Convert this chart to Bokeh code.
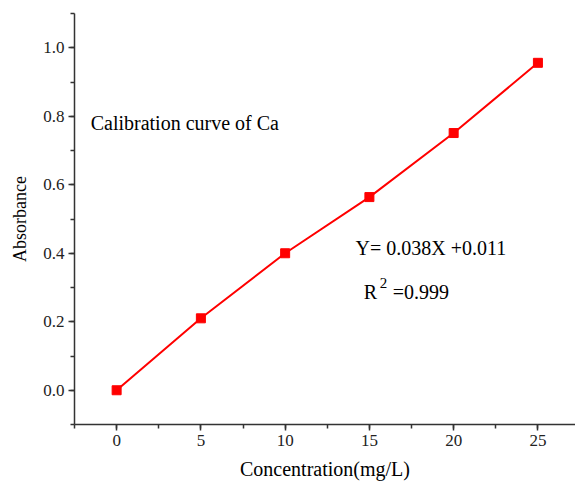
from bokeh.plotting import figure
from bokeh.models import Range1d, SingleIntervalTicker, NumeralTickFormatter, Label
from bokeh.embed import file_html
from bokeh.resources import INLINE

concentration = [0, 5, 10, 15, 20, 25]
absorbance = [0.0, 0.21, 0.40, 0.564, 0.751, 0.956]
title_text = "Calibration curve of Ca"
equation_text = "Y= 0.038X +0.011"
r2_main = "R"
r2_sup = "2"
r2_value = "=0.999"

FONT = "Liberation Serif"

p = figure(width=575, height=488, output_backend="svg", toolbar_location=None,
           x_range=Range1d(-2.5, 27.23), y_range=Range1d(-0.1, 1.1),
           min_border_left=74, min_border_right=0, min_border_top=13, min_border_bottom=64)
p.outline_line_color = None
p.xgrid.visible = False
p.ygrid.visible = False
p.background_fill_color = "white"
p.border_fill_color = "white"

p.xaxis.ticker = SingleIntervalTicker(interval=5, num_minor_ticks=2)
p.yaxis.ticker = SingleIntervalTicker(interval=0.2, num_minor_ticks=2)
p.yaxis.formatter = NumeralTickFormatter(format="0.0")

for ax in (p.xaxis[0], p.yaxis[0]):
    ax.axis_line_color = "#333333"
    ax.axis_line_width = 1.5
    ax.major_tick_line_color = "#333333"
    ax.minor_tick_line_color = "#333333"
    ax.major_tick_line_width = 1.5
    ax.minor_tick_line_width = 1.5
    ax.major_tick_out = 6
    ax.major_tick_in = 0
    ax.minor_tick_out = 4
    ax.minor_tick_in = 0
    ax.major_label_text_font = FONT
    ax.major_label_text_font_size = "17px"
    ax.major_label_text_color = "#222222"
    ax.axis_label_text_font = FONT
    ax.axis_label_text_font_style = "normal"
    ax.axis_label_text_color = "black"

p.xaxis.axis_label = "Concentration(mg/L)"
p.yaxis.axis_label = "Absorbance"
p.xaxis.axis_label_text_font_size = "20px"
p.yaxis.axis_label_text_font_size = "18px"
p.xaxis.major_label_standoff = 4
p.yaxis.major_label_standoff = 4
p.xaxis.axis_label_standoff = 9
p.yaxis.axis_label_standoff = 10

p.line(concentration, absorbance, line_color="red", line_width=2)
p.scatter(concentration, absorbance, marker="square", size=9, fill_color="red", line_color="red")

def lab(x, y, t, size):
    p.add_layout(Label(x=x, y=y, text=t, text_font=FONT, text_font_size=size,
                       text_color="black", text_baseline="alphabetic", text_align="left"))

lab(-1.54, 0.781, title_text, "20px")
lab(14.18, 0.415, equation_text, "20px")
lab(14.66, 0.287, r2_main, "20px")
lab(15.62, 0.313, r2_sup, "15px")
lab(16.38, 0.287, r2_value, "20px")

open("out.html", "w").write(file_html(p, INLINE))
